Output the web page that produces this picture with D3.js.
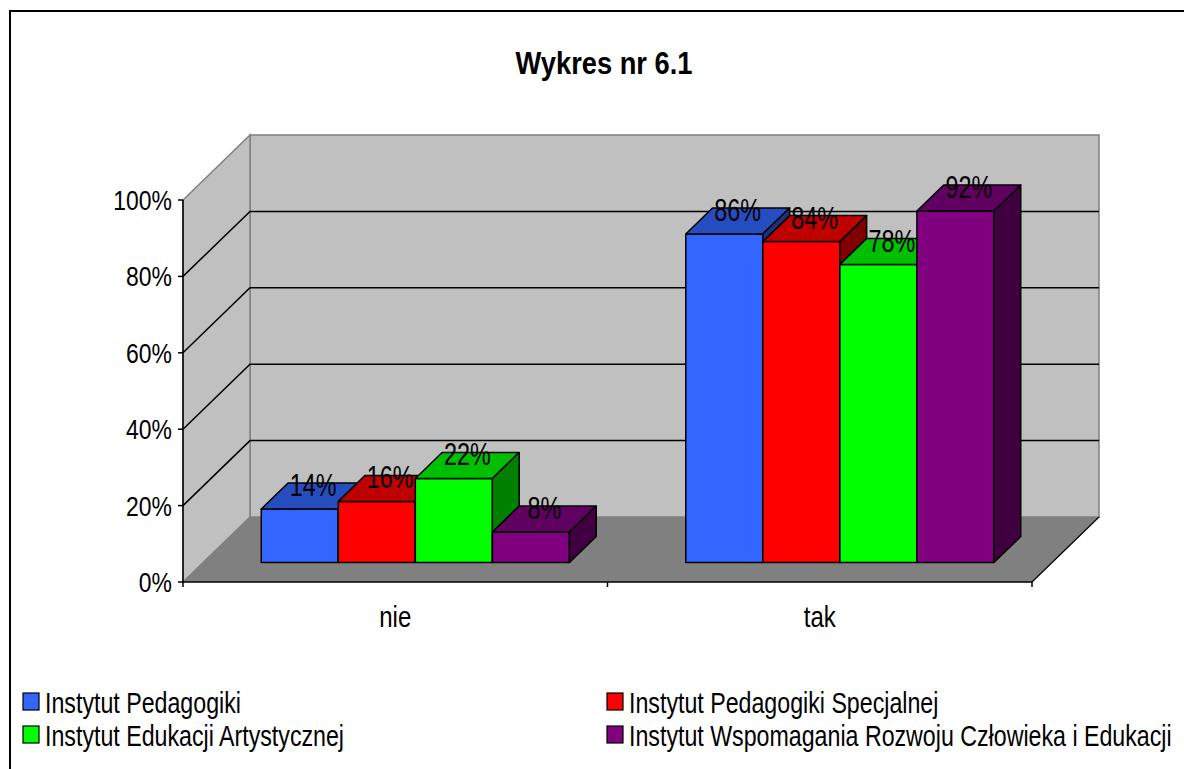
<!DOCTYPE html>
<html>
<head>
<meta charset="utf-8">
<script src="https://cdn.jsdelivr.net/npm/d3@7"></script>
<style>
  html, body { margin: 0; padding: 0; background: #fff; overflow: hidden; }
  svg { display: block; font-family: "Liberation Sans", Arial, sans-serif; }
</style>
</head>
<body>
<svg id="chart" width="1184" height="769"></svg>
<script>
// Chart data
const categories = ["nie", "tak"];
const seriesNames = [
  "Instytut Pedagogiki",
  "Instytut Pedagogiki Specjalnej",
  "Instytut Edukacji Artystycznej",
  "Instytut Wspomagania Rozwoju Człowieka i Edukacji"
];
const valuesNie = [0.14, 0.16, 0.22, 0.08];
const valuesTak = [0.86, 0.84, 0.78, 0.92];
const yTicks = [0, 0.2, 0.4, 0.6, 0.8, 1.0];
const titleText = "Wykres nr 6.1";

const seriesValues = [valuesNie, valuesTak];

// Face colours: front, top (shaded), side (darker)
const frontColors = ["#3366FF", "#FF0000", "#00FF00", "#800080"];
const topColors   = ["#264DBF", "#BF0000", "#00BF00", "#600060"];
const sideColors  = ["#1A3380", "#800000", "#008000", "#400040"];

const svg = d3.select("#chart");

// Outer chart-area frame
svg.append("rect")
  .attr("x", 10).attr("y", 11)
  .attr("width", 1300).attr("height", 900)
  .attr("fill", "#fff").attr("stroke", "#000").attr("stroke-width", 2);

// Horizontally condensed text helper
function condText(sel, x, y, str, opts) {
  return sel.append("text")
    .attr("transform", `translate(${x},${y}) scale(${opts.sx},1)`)
    .attr("text-anchor", opts.anchor || "start")
    .attr("font-size", opts.size)
    .attr("font-weight", opts.weight || "normal")
    .attr("fill", "#000")
    .text(str);
}

// Title
condText(svg, 604, 74, titleText, {anchor: "middle", size: 31, weight: "bold", sx: 0.88});

// Plot geometry (front plane scales + depth projection)
const xLeft = 183, xRight = 1032;
const y = d3.scaleLinear().domain([0, 1]).range([582, 200]);
const DX = 67, DY = 65;
const x0 = d3.scaleBand().domain(categories).range([xLeft, xRight]).paddingInner(0).paddingOuter(0);
const x1 = d3.scaleBand().domain(d3.range(seriesNames.length)).range([0, x0.bandwidth()])
  .paddingInner(0).paddingOuter(0.755);

const proj = (px, v, d) => [px + DX * d, y(v) - DY * d];
const pts = arr => arr.map(p => p.join(",")).join(" ");

const g = svg.append("g");

// Back wall
g.append("polygon")
  .attr("points", pts([proj(xLeft, 0, 1), proj(xRight, 0, 1), proj(xRight, 1, 1), proj(xLeft, 1, 1)]))
  .attr("fill", "#C0C0C0").attr("stroke", "#808080").attr("stroke-width", 1.5);

// Side wall
g.append("polygon")
  .attr("points", pts([proj(xLeft, 0, 0), proj(xLeft, 0, 1), proj(xLeft, 1, 1), proj(xLeft, 1, 0)]))
  .attr("fill", "#C0C0C0").attr("stroke", "#808080").attr("stroke-width", 1.5);

// Gridlines on side and back walls
const gridVals = yTicks.filter(v => v > 0 && v < 1);
gridVals.forEach(v => {
  const a = proj(xLeft, v, 0), b = proj(xLeft, v, 1), c = proj(xRight, v, 1);
  g.append("polyline")
    .attr("points", pts([a, b, c]))
    .attr("fill", "none").attr("stroke", "#000").attr("stroke-width", 1.5);
});

// Floor
g.append("polygon")
  .attr("points", pts([proj(xLeft, 0, 0), proj(xRight, 0, 0), proj(xRight, 0, 1), proj(xLeft, 0, 1)]))
  .attr("fill", "#808080").attr("stroke", "none");
g.append("line")
  .attr("x1", proj(xRight, 0, 0)[0]).attr("y1", proj(xRight, 0, 0)[1])
  .attr("x2", proj(xRight, 0, 1)[0]).attr("y2", proj(xRight, 0, 1)[1])
  .attr("stroke", "#000").attr("stroke-width", 1.2);

// Bars (depth from 0.3 to 0.7)
const d0 = 0.3, d1 = 0.7;
const labels = [];
categories.forEach((cat, ci) => {
  seriesNames.forEach((s, si) => {
    const v = seriesValues[ci][si];
    const xa = x0(cat) + x1(si), xb = xa + x1.bandwidth();
    const front = [proj(xa, 0, d0), proj(xb, 0, d0), proj(xb, v, d0), proj(xa, v, d0)];
    const top = [proj(xa, v, d0), proj(xb, v, d0), proj(xb, v, d1), proj(xa, v, d1)];
    const side = [proj(xb, 0, d0), proj(xb, 0, d1), proj(xb, v, d1), proj(xb, v, d0)];
    [[front, frontColors], [top, topColors], [side, sideColors]].forEach(([poly, cols]) => {
      g.append("polygon").attr("points", pts(poly))
        .attr("fill", cols[si]).attr("stroke", "#000").attr("stroke-width", 1.5)
        .attr("stroke-linejoin", "round");
    });
    const c = proj((xa + xb) / 2, v, (d0 + d1) / 2);
    labels.push({x: c[0], y: c[1], text: Math.round(v * 100) + "%"});
  });
});

// Value labels
labels.forEach(l => {
  condText(svg, l.x, l.y, l.text, {anchor: "middle", size: 32, sx: 0.73});
});

// Axes
const axisG = svg.append("g");
axisG.append("line")
  .attr("x1", xLeft).attr("x2", xLeft).attr("y1", y(0)).attr("y2", y(1))
  .attr("stroke", "#000").attr("stroke-width", 1.5);
axisG.append("line")
  .attr("x1", xLeft).attr("x2", xRight).attr("y1", y(0)).attr("y2", y(0))
  .attr("stroke", "#000").attr("stroke-width", 1.5);

yTicks.forEach(v => {
  axisG.append("line")
    .attr("x1", xLeft - 5).attr("x2", xLeft).attr("y1", y(v)).attr("y2", y(v))
    .attr("stroke", "#000").attr("stroke-width", 1.5);
  condText(axisG, xLeft - 11, y(v) + 10, d3.format(".0%")(v), {anchor: "end", size: 27, sx: 0.85});
});

// Category ticks on the x axis (band boundaries)
const bounds = [xLeft].concat(categories.map(c => x0(c) + x0.bandwidth()));
bounds.forEach(bx => {
  axisG.append("line")
    .attr("x1", bx).attr("x2", bx).attr("y1", y(0)).attr("y2", y(0) + 5)
    .attr("stroke", "#000").attr("stroke-width", 1.5);
});
categories.forEach(cat => {
  condText(axisG, x0(cat) + x0.bandwidth() / 2, 627, cat, {anchor: "middle", size: 30, sx: 0.8});
});

// Legend
const legendCols = [23, 607];
const legendRows = [693, 726];
seriesNames.forEach((s, i) => {
  const lx = legendCols[i % 2], ly = legendRows[Math.floor(i / 2)];
  svg.append("rect")
    .attr("x", lx).attr("y", ly).attr("width", 16).attr("height", 17)
    .attr("fill", frontColors[i]).attr("stroke", "#000").attr("stroke-width", 1.2);
  condText(svg, lx + 22, ly + 20, s, {anchor: "start", size: 29, sx: 0.8});
});
</script>
</body>
</html>
